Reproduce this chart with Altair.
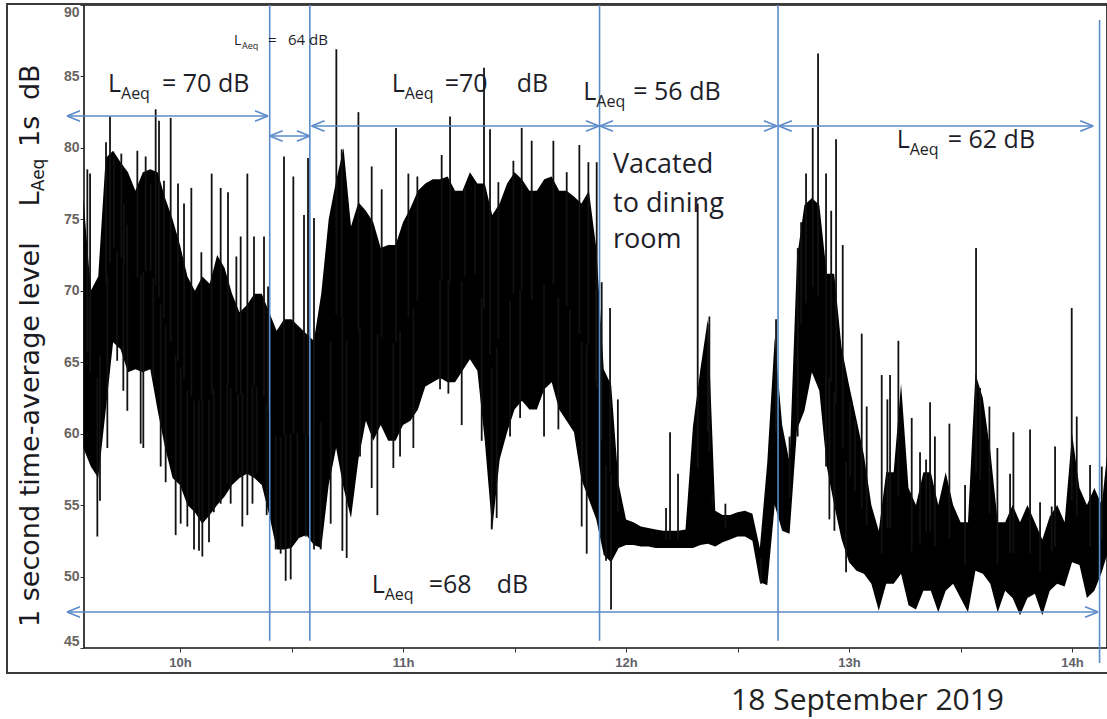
import altair as alt
import numpy as np
import pandas as pd

# ---------------- data (time in minutes after midnight, level in dB) ----------------
band_t = [574, 576, 578, 580, 582, 584, 586, 588, 590, 592, 594, 596, 598, 600, 602, 604, 606, 608,
          610, 612, 614, 616, 618, 620, 622, 624, 626, 628, 630, 632, 634, 636, 638, 640, 642, 644,
          646, 648, 650, 652, 654, 656, 658, 660, 662, 664, 666, 668, 670, 672, 674, 676, 678, 680,
          682, 684, 686, 688, 690, 692, 694, 696, 698, 700, 702, 704, 706, 708, 710, 712, 714, 716,
          718, 720, 722, 724, 726, 728, 730, 732, 734, 736, 738, 740, 742, 744, 746, 748, 750, 752,
          754, 756, 758, 760, 762, 764, 766, 768, 770, 772, 774, 776, 778, 780, 782, 784, 786, 788,
          790, 792, 794, 796, 798, 800, 802, 804, 806, 808, 810, 812, 814, 816, 818, 820, 822, 824,
          826, 828, 830, 832, 834, 836, 838, 840, 842, 844, 846, 848, 849.4]
band_hi = [76.5, 70.0, 71.0, 79.3, 79.8, 79.0, 78.3, 77.0, 78.3, 78.5, 78.3, 76.5, 75.0, 73.2, 71.0, 70.0, 71.0, 70.5,
           72.5, 71.6, 69.8, 68.5, 69.0, 69.8, 69.8, 68.5, 67.2, 68.0, 68.0, 67.5, 67.0, 66.5, 69.8, 75.0, 77.7, 80.0,
           74.5, 76.2, 75.6, 74.8, 73.0, 73.2, 73.2, 74.8, 75.8, 77.0, 77.5, 77.8, 77.8, 78.0, 77.0, 77.0, 78.3, 77.5,
           77.5, 75.3, 76.1, 77.5, 78.3, 77.8, 77.0, 77.0, 77.8, 78.0, 77.0, 77.0, 76.6, 76.1, 77.0, 73.0, 64.5, 63.4,
           56.5, 54.0, 53.8, 53.5, 53.4, 53.3, 53.2, 53.2, 53.2, 53.3, 60.5, 64.5, 68.0, 54.6, 54.3, 54.3, 54.5, 54.6,
           54.4, 52.0, 58.0, 66.7, 60.6, 58.0, 72.3, 76.0, 76.5, 76.0, 71.2, 71.2, 66.0, 63.4, 61.0, 58.5, 55.0, 53.2,
           57.3, 57.3, 63.5, 56.2, 55.0, 57.3, 57.3, 55.0, 57.3, 55.0, 53.8, 53.8, 64.2, 62.5, 58.8, 53.8, 53.8, 55.0,
           53.8, 55.0, 53.8, 52.6, 54.2, 55.0, 53.8, 60.0, 56.2, 55.0, 56.2, 55.0, 58.5]
band_lo = [59.0, 57.7, 56.9, 61.6, 66.4, 65.9, 64.3, 64.5, 64.3, 64.5, 61.6, 59.0, 56.9, 56.4, 55.0, 54.5, 53.7, 54.3,
           55.0, 55.6, 56.4, 56.9, 57.2, 56.9, 56.4, 54.3, 51.9, 51.9, 52.0, 52.7, 52.9, 52.2, 52.0, 56.4, 59.0, 56.2,
           54.1, 58.2, 60.9, 59.5, 60.6, 59.5, 59.5, 60.6, 60.9, 61.7, 63.3, 63.6, 63.9, 63.6, 63.6, 64.4, 65.2, 64.4,
           59.5, 53.3, 58.2, 60.1, 61.7, 62.3, 61.7, 61.7, 63.1, 63.6, 61.7, 60.9, 60.1, 56.8, 55.4, 54.0, 51.5, 51.0,
           52.0, 52.2, 52.2, 52.1, 52.1, 52.0, 52.0, 52.0, 52.0, 52.0, 52.0, 52.2, 52.3, 52.1, 52.4, 52.6, 52.8, 52.8,
           52.5, 49.6, 49.4, 55.0, 53.2, 53.0, 60.3, 61.6, 64.3, 63.0, 57.7, 55.0, 52.6, 51.0, 50.4, 50.2, 49.5, 47.6,
           49.5, 49.5, 50.2, 48.0, 47.7, 49.0, 49.0, 47.5, 49.0, 49.5, 48.5, 47.5, 50.4, 50.2, 49.5, 47.5, 49.0, 48.5,
           47.3, 48.5, 48.8, 47.3, 49.0, 49.5, 49.3, 51.0, 50.8, 48.5, 49.0, 50.3, 51.5]

up_t = [575.07, 575.8, 580.09, 581.17, 582.24, 584.21, 584.9, 585.8, 588.52, 590.76, 592.1, 593.45, 594.35,
        595.69, 597.49, 599.46, 601.08, 603.05, 605.74, 608.52, 610.94, 612.91, 615.16, 616.32, 618.12,
        619.91, 622.6, 623.7, 627.98, 630.49, 633.36, 634.44, 636.05, 642.06, 643.5, 648.0, 651.57, 654.26,
        658.12, 661.44, 663.86, 670.4, 672.65, 676.68, 679.37, 681.79, 683.41, 685.65, 689.69, 691.93,
        694.62, 700.45, 704.04, 707.44, 709.87, 711.9, 712.11, 713.45, 715.7, 717.8, 730.76, 731.84, 733.99,
        739.28, 742.0, 742.42, 746.73, 760.36, 764.0, 766.2, 767.1, 768.43, 770.23, 771.66, 773.81, 775.2,
        776.5, 778.3, 780.27, 781.62, 783.41, 784.75, 788.79, 790.31, 791.03, 793.27, 796.86, 799.1, 800.72,
        801.8, 803.1, 807.0, 811.21, 814.17, 815.25, 817.76, 819.91, 823.32, 824.22, 828.7, 831.39, 834.53,
        835.43, 839.91, 841.26, 844.84, 848.0]
up_db = [78.5, 78.2, 80.4, 82.2, 79.2, 79.6, 76.1, 74.6, 79.8, 79.4, 77.5, 82.7, 81.9,
         77.7, 82.1, 77.5, 76.1, 77.2, 72.7, 78.2, 77.2, 76.9, 72.4, 73.8, 78.2,
         73.8, 73.8, 70.3, 79.4, 78.0, 75.3, 79.3, 75.1, 86.9, 79.9, 82.5, 78.7, 77.1,
         81.4, 78.2, 78.0, 79.5, 82.2, 77.2, 77.5, 85.6, 81.3, 77.6, 79.1, 81.4,
         80.5, 80.5, 78.3, 80.2, 79.0, 70.1, 79.0, 70.6, 68.8, 62.4, 54.8, 60.1, 57.2,
         76.1, 67.7, 68.2, 55.1, 68.0, 59.8, 73.0, 74.8, 78.2, 81.4, 86.6, 78.2, 75.6,
         80.6, 73.2, 62.2, 60.9, 67.0, 61.9, 64.1, 62.4, 64.1, 66.5, 61.1, 58.7, 58.2,
         62.2, 59.8, 60.7, 56.4, 73.0, 63.2, 61.9, 59.0, 57.2, 60.1, 60.3, 55.2, 54.9,
         59.1, 68.8, 61.2, 57.8, 57.7]

down_t = [577.76, 578.47, 580.45, 583.1, 584.75, 585.83, 589.42, 590.13, 592.8, 594.8, 596.14, 598.83,
          600.18, 601.97, 603.77, 605.11, 606.01, 607.8, 609.1, 610.94, 612.7, 613.63, 615.6, 616.77,
          618.12, 619.5, 620.6, 623.32, 625.74, 627.08, 628.43, 629.78, 631.57, 633.81, 636.05, 637.85,
          640.54, 643.68, 644.84, 648.43, 651.57, 653.1, 657.4, 659.2, 662.78, 669.96, 672.2, 675.79,
          681.17, 683.86, 685.2, 688.79, 691.5, 697.94, 701.8, 704.93, 708.07, 709.42, 714.62, 715.97,
          743.3, 756.32, 766.19, 773.81, 774.71, 776.06, 779.2]
down_db = [52.8, 55.3, 59.0, 65.1, 63.0, 61.6, 59.3, 59.0, 63.8, 57.7, 56.6, 52.9,
           53.7, 53.5, 51.9, 51.8, 51.4, 52.4, 54.5, 55.1, 56.5, 55.1, 57.2, 53.5,
           54.3, 55.1, 57.2, 54.3, 51.9, 51.6, 49.7, 49.8, 52.7, 52.8, 51.9, 51.9,
           53.7, 51.8, 51.3, 58.4, 56.2, 54.3, 57.6, 58.4, 59.0, 63.1, 62.8, 60.6,
           59.5, 53.3, 54.1, 59.8, 61.1, 59.8, 60.3, 60.9, 53.5, 51.6, 51.1, 47.7,
           55.0, 49.5, 59.8, 57.7, 54.0, 53.2, 50.3]

# section boundaries and double arrows
sep_t = [624.13, 634.93, 712.87, 760.9, 847.4]
sep_top = [90.0, 90.0, 90.0, 90.0, 88.95]
sep_bottom = [45.5, 45.5, 45.5, 45.5, 43.95]

arrow_t0 = [569.6, 624.13, 635.4, 713.0, 761.1, 569.6]
arrow_t1 = [623.67, 634.93, 712.7, 760.6, 845.7, 847.0]
arrow_db = [82.23, 80.83, 81.53, 81.53, 81.53, 47.52]

# L_Aeq annotations: anchor of the "L", value text pieces
laeq_t = [580.63, 614.53, 656.96, 708.5, 792.83, 651.58]
laeq_db = [83.91, 87.2, 83.91, 83.35, 79.99, 48.83]
laeq_small = [False, True, False, False, False, False]
laeq_text = [["= 70 dB"], ["=", "64 dB"], ["=70", "dB"], ["= 56 dB"], ["= 62 dB"], ["=68", "dB"]]
laeq_dx = [[54], [34, 54], [53, 125], [50], [51], [57, 125]]

note_lines = ["Vacated", "to dining", "room"]
note_t = 716.5
note_db = [78.24, 75.51, 72.99]

caption = "18 September 2019"
caption_t, caption_db = 784.98, 40.66

ytitle_text = ["1 second time-average level", "L", "Aeq", "1s", "dB"]
ytitle_t = [561.93, 561.93, 563.5, 561.93, 561.93]
ytitle_db = [46.47, 75.9, 76.97, 80.06, 83.35]
ytitle_size = [27, 27, 17, 27, 27]

xtick_values = [600, 630, 660, 690, 720, 750, 780, 810, 840]
ytick_values = [45, 50, 55, 60, 65, 70, 75, 80, 85, 90]

# ---------------- chart ----------------
W, H = 1023, 643
T_DOMAIN = [574.17, 849.4]
DB_DOMAIN = [45, 90]
PX_PER_MIN = W / (T_DOMAIN[1] - T_DOMAIN[0])
PX_PER_DB = H / (DB_DOMAIN[1] - DB_DOMAIN[0])

BLUE = "#5b8bc9"
INK = "#1e1e28"

xs = alt.Scale(domain=T_DOMAIN, nice=False, zero=False)
ys = alt.Scale(domain=DB_DOMAIN, nice=False, zero=False)

band_df = pd.DataFrame({"t": band_t, "hi": band_hi, "lo": band_lo})
mid = (np.array(band_hi) + np.array(band_lo)) / 2
spk_t = up_t + down_t
spk_v = up_db + down_db
spk_df = pd.DataFrame({"t": spk_t, "v": spk_v,
                       "m": np.interp(spk_t, band_t, mid)})

x_axis = alt.Axis(values=xtick_values,
                  labelExpr="datum.value % 60 == 0 ? (datum.value / 60) + 'h' : ''",
                  tickSize=4, tickColor="#333", domain=False, grid=False,
                  labelFont="Liberation Sans", labelFontSize=13, labelFontWeight="bold",
                  labelColor="#5f6068", labelPadding=4, title=None)
y_axis = alt.Axis(values=ytick_values, tickSize=4, tickColor="#333", domain=False, grid=False,
                  labelFont="Liberation Sans", labelFontSize=14, labelFontWeight="bold",
                  labelColor="#6a6460", labelPadding=1, labelFlush=True, title=None)

area = alt.Chart(band_df).mark_area(color="black", interpolate="linear").encode(
    x=alt.X("t:Q", scale=xs, axis=x_axis),
    y=alt.Y("hi:Q", scale=ys, axis=y_axis),
    y2="lo:Q",
)

spikes = alt.Chart(spk_df).mark_rule(color="#111", strokeWidth=1.8).encode(
    x=alt.X("t:Q", scale=xs), y=alt.Y("v:Q", scale=ys), y2="m:Q")

sep_df = pd.DataFrame({"t": sep_t, "top": sep_top, "bottom": sep_bottom})
seps = alt.Chart(sep_df).mark_rule(color=BLUE, strokeWidth=1.6).encode(
    x=alt.X("t:Q", scale=xs), y=alt.Y("top:Q", scale=ys), y2="bottom:Q")

arr_df = pd.DataFrame({"t0": arrow_t0, "t1": arrow_t1, "db": arrow_db})
arr_lines = alt.Chart(arr_df).mark_rule(color=BLUE, strokeWidth=1.6).encode(
    x=alt.X("t0:Q", scale=xs), x2="t1:Q", y=alt.Y("db:Q", scale=ys))
head_left = alt.Chart(arr_df).mark_point(
    shape="M0,0L2,-0.8M0,0L2,0.8", filled=False, stroke=BLUE, strokeWidth=1.6, size=169, opacity=1
).encode(x=alt.X("t0:Q", scale=xs), y=alt.Y("db:Q", scale=ys))
head_right = alt.Chart(arr_df).mark_point(
    shape="M0,0L-2,-0.8M0,0L-2,0.8", filled=False, stroke=BLUE, strokeWidth=1.6, size=169, opacity=1
).encode(x=alt.X("t1:Q", scale=xs), y=alt.Y("db:Q", scale=ys))


def piece(t, db, dx, dy, text, size):
    return {"t": t + dx / PX_PER_MIN, "db": db - dy / PX_PER_DB, "text": text, "size": size}


rows = []
for t, db, small, texts, dxs in zip(laeq_t, laeq_db, laeq_small, laeq_text, laeq_dx):
    if small:
        main, sub, sdx, sdy, rest = 14, 9, 8, 4, 15
    else:
        main, sub, sdx, sdy, rest = 25, 16, 13, 7, 25
    rows.append(piece(t, db, 0, 0, "L", main))
    rows.append(piece(t, db, sdx, sdy, "Aeq", sub))
    for txt, dx in zip(texts, dxs):
        rows.append(piece(t, db, dx, 0, txt, rest))
for line, db in zip(note_lines, note_db):
    rows.append(piece(note_t, db, 0, 0, line, 27))
lab_df = pd.DataFrame(rows)

labels = alt.Chart(lab_df).mark_text(
    align="left", baseline="alphabetic", font="Open Sans", color=INK
).encode(x=alt.X("t:Q", scale=xs), y=alt.Y("db:Q", scale=ys), text="text:N",
         size=alt.Size("size:Q", scale=None, legend=None))

cap_df = pd.DataFrame({"t": [caption_t], "db": [caption_db], "text": [caption]})
cap = alt.Chart(cap_df).mark_text(
    align="center", baseline="alphabetic", font="Open Sans", fontSize=30, color="#222"
).encode(x=alt.X("t:Q", scale=xs), y=alt.Y("db:Q", scale=ys), text="text:N")

yt_df = pd.DataFrame({"t": ytitle_t, "db": ytitle_db, "text": ytitle_text, "size": ytitle_size})
ytitle = alt.Chart(yt_df).mark_text(
    align="left", baseline="alphabetic", font="DejaVu Sans", angle=270, color="#1a1a22"
).encode(x=alt.X("t:Q", scale=xs), y=alt.Y("db:Q", scale=ys), text="text:N",
         size=alt.Size("size:Q", scale=None, legend=None))

frame = alt.Chart(pd.DataFrame({"k": [0]})).mark_rect(
    fillOpacity=0, stroke="#3a3a3a", strokeWidth=2
).encode(x=alt.value(-77), x2=alt.value(1060), y=alt.value(-1), y2=alt.value(668))

chart = alt.layer(
    frame, area, spikes, seps, arr_lines, head_left, head_right, labels, cap, ytitle
).properties(
    width=W, height=H, autosize="none",
    padding={"left": 84, "top": 5, "right": 0, "bottom": 71},
    background="white",
).configure_view(stroke="#111", strokeWidth=1.6)

chart.save("out.html", embed_options={"renderer": "svg", "actions": False})
